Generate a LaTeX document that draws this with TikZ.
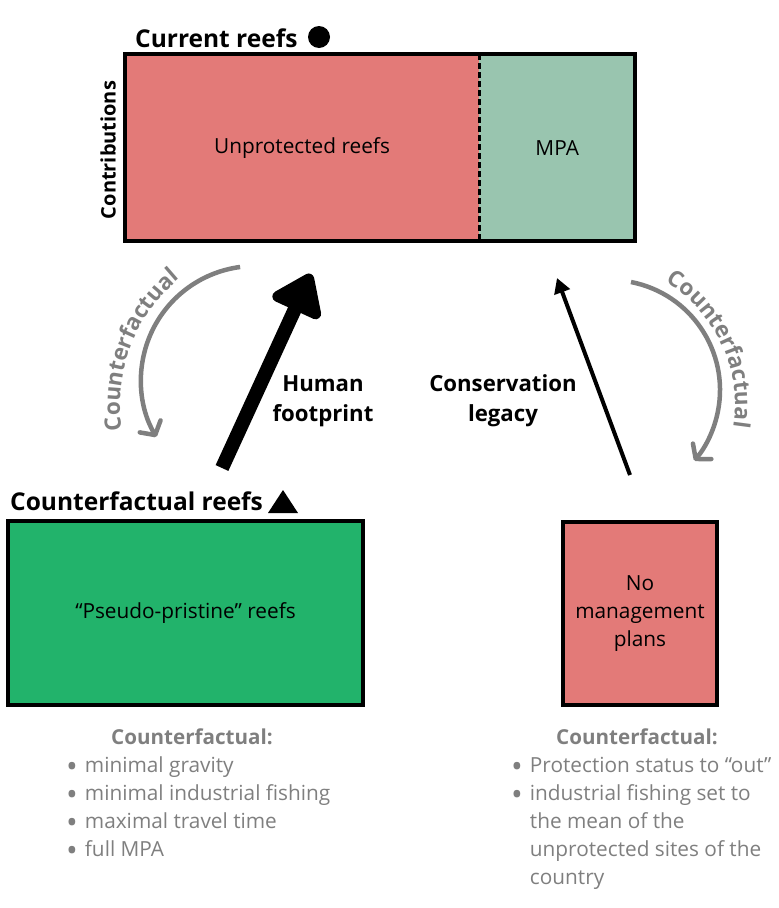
\documentclass[tikz,border=0pt]{standalone}
\usepackage{fontspec}
\setmainfont{Open Sans}
\usetikzlibrary{arrows.meta,decorations.text}
\definecolor{redbox}{HTML}{E37A78}
\definecolor{mpagreen}{HTML}{99C5AF}
\definecolor{ppgreen}{HTML}{22B36B}
\definecolor{cfgray}{HTML}{7F7F7F}
\newcommand{\bul}{\raisebox{-5.5pt}{\scalebox{1.5}{•}}}
\tikzset{
  headlbl/.style={font=\fontsize{24.5}{29}\selectfont\bfseries, inner sep=0pt},
  bodyfont/.style={font=\fontsize{20.8}{28}\selectfont},
  boxtxt/.style={bodyfont, align=center},
  arrowlbl/.style={font=\fontsize{22.2}{30}\selectfont\bfseries, align=center, inner sep=0pt},
  cfhead/.style={font=\fontsize{20.6}{28}\selectfont\bfseries, text=cfgray, inner sep=0pt},
  cflist/.style={bodyfont, text=cfgray, inner sep=0pt, anchor=base west},
  cfarc/.style={draw=cfgray, line width=4.5pt, -{Straight Barb[length=10pt,width=24pt,round]}},
  cftext/.style={decorate, decoration={text along path, text align=center,
      text color=cfgray, text={|\fontsize{22.5}{27}\selectfont\bfseries|Counterfactual}}},
  boxframe/.style={draw=black, line width=4pt}
}
\begin{document}
\begin{tikzpicture}[x=1pt,y=-1pt]
\useasboundingbox (0,0) rectangle (779,908);

% top box
\node[fill=redbox, minimum width=354.3pt, minimum height=187pt, anchor=north west, inner sep=0pt,
      bodyfont] (unprot) at (124.7,54) {Unprotected reefs};
\node[fill=mpagreen, minimum width=156pt, minimum height=187pt, anchor=north west, inner sep=0pt,
      bodyfont] (mpa) at (479,54) {MPA};
\draw[boxframe] (unprot.north west) rectangle (mpa.south east);
\draw[line width=2.5pt, dash pattern=on 6pt off 3pt] (unprot.north east) -- (unprot.south east);

\node[headlbl, anchor=base west] (cur) at (135,47) {Current reefs};
\fill (319,37) circle[radius=11pt];
\node[font=\fontsize{20}{24}\selectfont\bfseries, rotate=90, inner sep=0pt] (contrib) at (108,150) {Contributions};

% bottom boxes
\node[boxframe, fill=ppgreen, minimum width=355.6pt, minimum height=183.4pt, inner sep=0pt,
      bodyfont] (pp) at (185.5,613) {“Pseudo-pristine” reefs};
\node[boxframe, fill=redbox, minimum width=154.6pt, minimum height=183.7pt, inner sep=0pt,
      boxtxt] (nomp) at (640,613.5) {No\\management\\plans};

\node[headlbl, anchor=base west] (cfr) at (10,510) {Counterfactual reefs};
\fill (268,513) -- (298,513) -- (283,490) -- cycle;

% main arrows
\coordinate (hfs) at (222,468);
\coordinate (hft) at (311,274);
\draw[line width=14pt, -{Triangle[length=44pt,width=60pt,round]}] (hfs) -- (hft);
\coordinate (cls) at (630,475);
\coordinate (clt) at (557,278);
\draw[line width=4pt, -{Triangle[length=15pt,width=16pt]}] (cls) -- (clt);

\node[arrowlbl] (hf) at (323,401) {Human\\footprint};
\node[arrowlbl] (cl) at (503,401) {Conservation\\legacy};

% counterfactual arcs
\coordinate (lc) at (255,380);
\coordinate (rc) at (610,390);
\draw[cfarc] (lc) ++(262.5:114) arc[start angle=262.5, end angle=150, radius=114];
\draw[cfarc] (rc) ++(-79:110) arc[start angle=-79, end angle=40, radius=110];
\path[cftext] (286,406) ++(166:166) arc[start angle=166, end angle=236, radius=166];
\path[cftext] (591,405) ++(-64:144) arc[start angle=-64, end angle=14, radius=144];

% counterfactual lists
\node[cfhead, anchor=base] (lh) at (192,744) {Counterfactual:};
\node[cflist] (ll) at (66,772) {\begin{tabular}[t]{@{}c@{\hspace{7pt}}l@{}}
\bul & minimal gravity\\
\bul & minimal industrial fishing\\
\bul & maximal travel time\\
\bul & full MPA
\end{tabular}};
\node[cfhead, anchor=base] (rh) at (637,744) {Counterfactual:};
\node[cflist] (rl) at (511,772) {\begin{tabular}[t]{@{}c@{\hspace{7pt}}l@{}}
\bul & Protection status to “out”\\
\bul & industrial fishing set to\\
  & the mean of the\\
  & unprotected sites of the\\
  & country
\end{tabular}};
\end{tikzpicture}
\end{document}
